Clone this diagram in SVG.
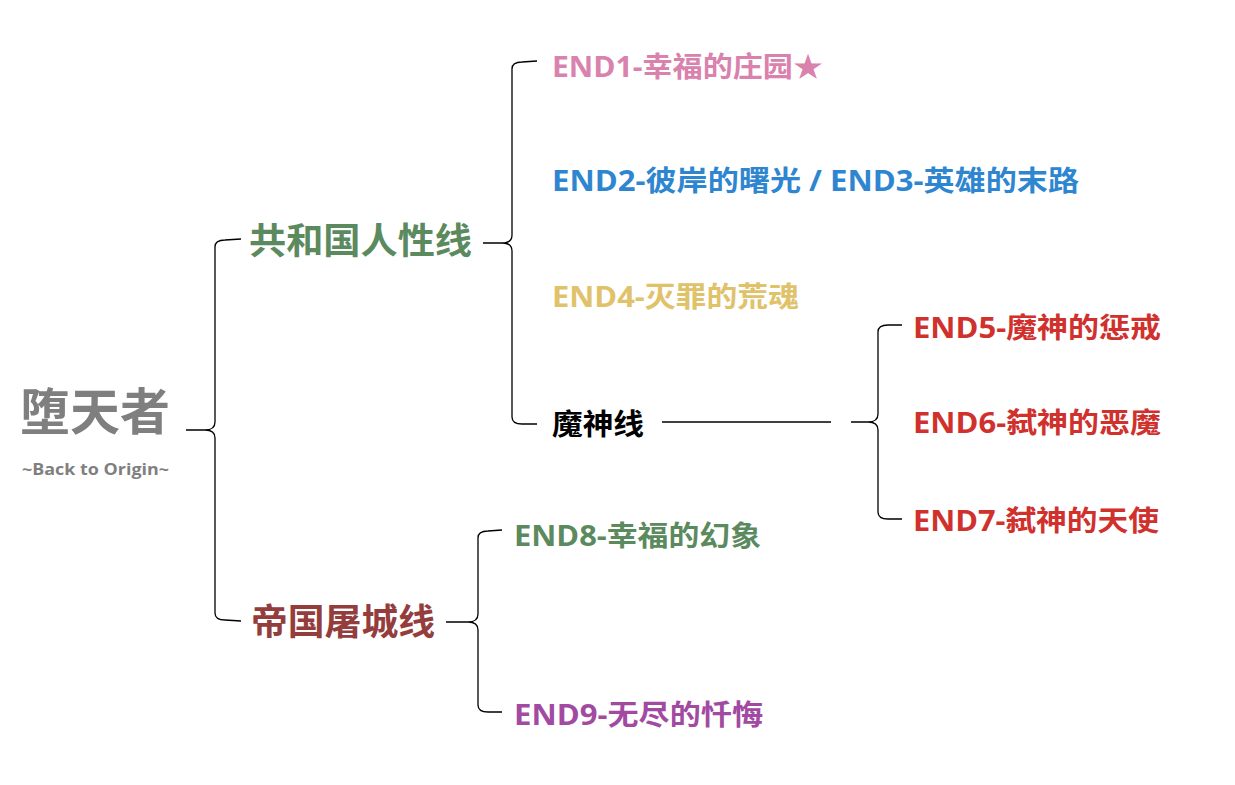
<svg xmlns="http://www.w3.org/2000/svg" width="1235" height="785" viewBox="0 0 1235 785">
<style>
text{font-family:"Open Sans","Noto Sans CJK SC",sans-serif;font-weight:bold;dominant-baseline:central}
.br{fill:none;stroke:#000;stroke-width:1.3}
.lg{font-size:36px}
.md{font-size:28px}
</style>
<rect width="1235" height="785" fill="#fff"/>
<g id="connectors">
<path class="br" d="M186 430 H205 C211 430 215 428 215 422 V247 C215 242 219 240 225 240 L241 239 M205 430 C211 430 215 432 215 438 V613 C215 618 219 620 225 620 L241 621"/>
<path class="br" d="M483 243 H502 C508 243 512 241 512 235 V69 C512 64 516 62 522 62 L537 61 M502 243 C508 243 512 245 512 251 V417 C512 422 516 424 522 424 L537 424"/>
<path class="br" d="M446 622 H468 C474 622 478 620 478 614 V538 C478 533 482 531 488 531 L502 530 M468 622 C474 622 478 624 478 630 V705 C478 710 482 712 488 712 L502 712"/>
<path class="br" d="M662 422 H831"/>
<path class="br" d="M851 422 H868 C874 422 878 420 878 414 V332 C878 327 882 325 888 325 L902 325 M868 422 C874 422 878 424 878 430 V512 C878 517 882 519 888 519 L902 519"/>
</g>
<g id="root"><text x="20" y="411" font-size="50" fill="#7f7f7f" textLength="150" lengthAdjust="spacingAndGlyphs">堕天者</text>
<text x="22" y="469" font-size="16" fill="#7f7f7f" textLength="147" lengthAdjust="spacingAndGlyphs">~Back to Origin~</text></g>
<g id="republic"><text class="lg" x="249" y="240" fill="#5b8a5e" textLength="223" lengthAdjust="spacingAndGlyphs">共和国人性线</text></g>
<g id="empire"><text class="lg" x="251" y="621" fill="#943d3d" textLength="184" lengthAdjust="spacingAndGlyphs">帝国屠城线</text></g>
<g id="end1"><text class="md" x="552" y="66" fill="#d982ad" textLength="271" lengthAdjust="spacingAndGlyphs">END1-幸福的庄园★</text></g>
<g id="end23"><text class="md" x="552" y="180" fill="#2e86d0" textLength="527" lengthAdjust="spacingAndGlyphs">END2-彼岸的曙光 / END3-英雄的末路</text></g>
<g id="end4"><text class="md" x="552" y="296" fill="#dfc26a" textLength="247" lengthAdjust="spacingAndGlyphs">END4-灭罪的荒魂</text></g>
<g id="demon"><text x="552" y="423" font-size="29" fill="#000" textLength="92" lengthAdjust="spacingAndGlyphs">魔神线</text></g>
<g id="end5"><text class="md" x="913" y="327" fill="#d0312d" textLength="248" lengthAdjust="spacingAndGlyphs">END5-魔神的惩戒</text></g>
<g id="end6"><text class="md" x="913" y="422" fill="#d0312d" textLength="248" lengthAdjust="spacingAndGlyphs">END6-弑神的恶魔</text></g>
<g id="end7"><text class="md" x="913" y="520" fill="#d0312d" textLength="246" lengthAdjust="spacingAndGlyphs">END7-弑神的天使</text></g>
<g id="end8"><text class="md" x="514" y="535" fill="#5b8a5e" textLength="247" lengthAdjust="spacingAndGlyphs">END8-幸福的幻象</text></g>
<g id="end9"><text class="md" x="514" y="714" fill="#a24aa2" textLength="249" lengthAdjust="spacingAndGlyphs">END9-无尽的忏悔</text></g>
</svg>
